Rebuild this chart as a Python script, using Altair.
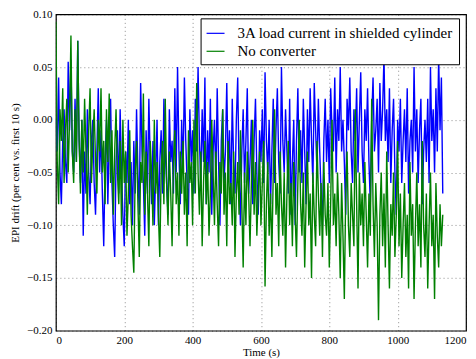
import altair as alt
import pandas as pd

step = 4  # seconds between plotted samples
blue_vals = [
    0.00, -0.03, 0.04, -0.05, -0.08, -0.02, 0.01, -0.04, -0.06, 0.055, -0.01, 0.057, -0.03, -0.05, 0.02,
    -0.04, 0.075, -0.02, -0.06, 0.00, -0.11, -0.03, -0.07, 0.01, -0.05, -0.08, -0.02, 0.00, -0.06, -0.09,
    -0.03, 0.03, -0.05, -0.01, -0.07, -0.12, -0.04, 0.00, -0.08, -0.02, 0.02, -0.06, -0.10, -0.13, -0.04,
    -0.01, -0.07, 0.01, -0.05, -0.09, -0.12, -0.03, -0.06, 0.00, -0.08, -0.04, -0.10, -0.02, -0.07, 0.01,
    -0.05, -0.09, 0.035, -0.03, -0.06, -0.11, -0.01, -0.07, 0.02, -0.04, -0.08, -0.02, -0.10, -0.05, 0.00,
    -0.10, -0.04, -0.01, -0.07, 0.02, -0.03, -0.06, -0.09, 0.01, -0.04, -0.02, -0.07, 0.03, -0.05, 0.05,
    -0.03, -0.08, 0.00, -0.05, 0.04, -0.02, -0.06, -0.09, 0.01, -0.04, -0.01, -0.07, 0.02, -0.03, 0.05,
    -0.02, -0.06, 0.01, -0.04, 0.04, -0.08, -0.01, -0.05, 0.02, -0.09, -0.03, 0.00, -0.06, 0.03, -0.04,
    -0.10, -0.02, 0.01, -0.06, -0.03, 0.035, -0.05, -0.01, -0.08, 0.02, -0.04, -0.07, 0.00, 0.04, -0.05,
    -0.10, -0.03, 0.01, -0.06, -0.02, 0.03, -0.07, -0.04, 0.00, -0.08, -0.02, 0.02, -0.05, -0.09, -0.01,
    -0.04, 0.01, -0.06, 0.045, -0.02, -0.05, 0.00, -0.08, -0.03, 0.02, -0.06, -0.01, 0.03, -0.04, -0.07,
    0.05, -0.02, -0.05, 0.01, -0.03, -0.07, 0.02, -0.09, -0.04, 0.00, -0.10, -0.02, 0.03, -0.05, -0.01,
    -0.06, 0.02, -0.03, -0.08, 0.01, -0.04, 0.03, -0.02, -0.06, 0.035, -0.01, -0.05, 0.02, -0.03, -0.07,
    -0.10, -0.02, 0.02, -0.04, 0.00, -0.06, 0.03, -0.01, -0.03, 0.04, -0.05, 0.01, -0.02, 0.05, -0.03,
    0.00, -0.04, -0.09, 0.02, -0.01, 0.04, -0.03, -0.06, 0.01, -0.02, 0.03, -0.05, 0.00, 0.045, -0.03,
    -0.06, 0.01, -0.02, 0.03, -0.04, -0.08, 0.00, 0.04, -0.03, -0.01, 0.02, -0.05, 0.035, -0.02, 0.01,
    0.06, -0.02, 0.01, -0.04, 0.03, -0.06, -0.01, 0.02, -0.05, -0.09, 0.00, -0.03, 0.02, -0.06, -0.02,
    0.01, -0.04, 0.03, -0.07, -0.02, 0.00, -0.05, 0.05, -0.03, 0.01, -0.06, -0.01, 0.02, -0.08, -0.03,
    0.00, -0.04, 0.02, -0.06, 0.05, -0.02, 0.01, -0.05, 0.03, -0.03, 0.06, -0.01, 0.04, -0.07,
]
green_vals = [
    0.093, -0.04, -0.08, 0.01, -0.02, 0.03, -0.06, -0.01, 0.02, -0.05, 0.00, 0.08, -0.03, -0.06, 0.01,
    -0.04, 0.075, -0.02, -0.07, 0.00, -0.05, 0.02, -0.03, -0.09, -0.01, 0.03, -0.06, -0.02, 0.01, -0.04,
    -0.07, 0.00, -0.03, 0.03, -0.05, -0.02, -0.08, 0.01, -0.04, 0.025, -0.06, -0.01, -0.09, -0.03, 0.01,
    -0.05, -0.08, -0.02, -0.10, 0.00, -0.06, -0.03, -0.11, -0.07, -0.01, -0.09, -0.12, -0.145, -0.05, -0.02,
    -0.08, -0.13, -0.04, -0.06, 0.025, -0.09, -0.03, -0.07, -0.12, -0.02, -0.05, -0.10, 0.00, -0.07, -0.04,
    -0.09, -0.13, -0.05, -0.02, -0.08, 0.02, -0.06, -0.10, -0.03, -0.07, -0.12, -0.04, -0.01, -0.08, -0.05,
    -0.11, -0.03, -0.07, -0.02, -0.09, -0.05, -0.12, -0.01, -0.06, -0.04, -0.10, 0.00, -0.07, 0.035, -0.05,
    -0.09, -0.03, -0.12, -0.06, -0.02, -0.08, -0.04, -0.11, -0.07, 0.00, -0.05, -0.10, -0.03, -0.08, -0.12,
    -0.04, -0.07, 0.01, -0.09, -0.05, -0.12, -0.02, -0.08, -0.06, -0.10, -0.03, -0.13, -0.07, -0.04, -0.09,
    -0.01, -0.08, -0.14, -0.05, -0.10, -0.03, -0.07, -0.12, -0.06, 0.00, -0.09, -0.04, -0.11, -0.07, -0.03,
    -0.10, -0.06, -0.02, -0.158, -0.08, -0.04, -0.11, -0.07, -0.13, -0.05, 0.01, -0.09, -0.06, -0.12, -0.03,
    -0.08, -0.11, -0.05, -0.14, -0.07, -0.02, -0.10, -0.06, -0.12, -0.04, -0.09, -0.13, -0.06, 0.00, -0.08,
    -0.11, -0.05, -0.14, -0.08, -0.03, -0.10, -0.07, -0.15, -0.05, -0.09, -0.12, -0.02, -0.07, -0.11, -0.06,
    -0.13, -0.04, -0.09, -0.11, -0.06, -0.14, -0.08, 0.00, -0.10, -0.07, -0.12, -0.05, -0.09, -0.15, -0.06,
    -0.11, -0.17, -0.07, -0.03, -0.10, -0.13, -0.06, -0.09, -0.12, 0.01, -0.08, -0.16, -0.05, -0.10, -0.07,
    -0.12, -0.04, -0.09, -0.14, -0.07, -0.11, 0.02, -0.08, -0.13, -0.06, -0.10, -0.19, -0.09, -0.05, -0.12,
    -0.07, -0.14, -0.03, -0.10, -0.16, -0.08, -0.11, -0.05, -0.13, -0.09, -0.02, -0.12, -0.07, -0.15, -0.10,
    -0.06, -0.13, -0.09, -0.16, -0.04, -0.11, -0.08, -0.17, -0.10, -0.05, -0.12, -0.08, -0.14, -0.02, -0.10,
    -0.13, -0.07, -0.16, -0.10, -0.05, -0.12, -0.09, -0.17, -0.06, -0.11, -0.14, -0.08, -0.12, -0.09,
]
series_names = ["3A load current in shielded cylinder", "No converter"]
series_colors = ["#0000ff", "#008000"]
x_ticks = [0, 200, 400, 600, 800, 1000, 1200]
y_ticks = [-0.20, -0.15, -0.10, -0.05, 0.00, 0.05, 0.10]

df_blue = pd.DataFrame({"t": [i * step for i in range(len(blue_vals))],
                        "v": blue_vals, "series": series_names[0]})
df_green = pd.DataFrame({"t": [i * step for i in range(len(green_vals))],
                         "v": green_vals, "series": series_names[1]})

FONT = "Liberation Serif"

x_enc = alt.X("t:Q", scale=alt.Scale(domain=[0, 1200], nice=False),
              axis=alt.Axis(values=x_ticks, title="Time (s)", format="d"))
y_enc = alt.Y("v:Q", scale=alt.Scale(domain=[-0.20, 0.10], nice=False),
              axis=alt.Axis(values=y_ticks, title="EPI drift (per cent vs. first 10 s)",
                            format=".2f"))
color_enc = alt.Color("series:N",
                      scale=alt.Scale(domain=series_names, range=series_colors),
                      legend=alt.Legend(title=None, orient="none", legendX=145, legendY=4,
                                        symbolType="stroke", symbolSize=324,
                                        symbolStrokeWidth=1.2, labelFontSize=15,
                                        labelFont=FONT, labelColor="black",
                                        strokeColor="black", fillColor="white",
                                        padding=5, rowPadding=0, labelOffset=12,
                                        cornerRadius=0, labelLimit=400))

blue = alt.Chart(df_blue).mark_line(strokeWidth=1.4, clip=True).encode(
    x=x_enc, y=y_enc, color=color_enc)
green = alt.Chart(df_green).mark_line(strokeWidth=1.4, clip=True).encode(
    x=x_enc, y=y_enc, color=color_enc)

chart = alt.layer(blue, green).properties(
    width=411, height=317,
    autosize=alt.AutoSizeParams(type="none"),
    padding={"left": 48, "top": 6, "right": 2, "bottom": 27},
).configure_view(stroke="black", strokeWidth=1.2).configure_axis(
    labelFont=FONT, titleFont=FONT, labelFontSize=11, titleFontSize=11,
    titleFontWeight="normal", labelColor="black", titleColor="black",
    domain=False, ticks=False, labelPadding=4,
    grid=True, gridColor="#000000", gridOpacity=0.45, gridDash=[1, 3], gridWidth=1,
).configure_axisY(titlePadding=6).configure_axisX(titlePadding=1)

chart.save("out.html", embed_options={"renderer": "svg", "actions": False})
